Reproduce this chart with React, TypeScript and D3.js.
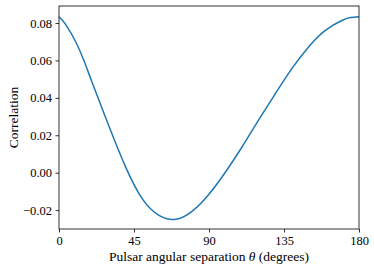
import { useEffect, useRef } from 'react';
import * as d3 from 'd3';

// angular separation (degrees) and correlation
const theta = [0, 2.5, 5, 10, 15, 20, 30, 40, 50, 60, 70, 80, 90, 100, 110, 120, 130, 140, 150, 160, 170, 175, 180];
const correlation = [
  0.0833, 0.0809, 0.0778, 0.07, 0.0598, 0.048, 0.0248, 0.003, -0.014, -0.0228, -0.0249, -0.0205, -0.0115,
  0.0005, 0.014, 0.0285, 0.0425, 0.056, 0.0675, 0.0762, 0.0815, 0.0829, 0.0833,
];
const xTicks = [0, 45, 90, 135, 180];
const yTicks = [-0.02, 0, 0.02, 0.04, 0.06, 0.08];

const width = 374;
const height = 269;
const margin = { top: 6, right: 15, bottom: 40, left: 59 };

export default function App() {
  const svgRef = useRef<SVGSVGElement>(null);

  useEffect(() => {
    if (!svgRef.current) return;
    const svg = d3.select(svgRef.current);
    svg.selectAll('*').remove();

    const innerWidth = width - margin.left - margin.right;
    const innerHeight = height - margin.top - margin.bottom;
    const font = '"Liberation Serif", "DejaVu Serif", serif';

    const x = d3.scaleLinear().domain([0, 180]).range([0, innerWidth]);
    const y = d3.scaleLinear().domain([-0.0301, 0.0891]).range([innerHeight, 0]);

    const g = svg.append('g').attr('transform', `translate(${margin.left},${margin.top})`);

    const pts = theta.map((t, i) => [t, correlation[i]] as [number, number]);
    const line = d3.line<[number, number]>()
      .x(d => x(d[0]))
      .y(d => y(d[1]))
      .curve(d3.curveNatural);

    g.append('path')
      .datum(pts)
      .attr('d', line)
      .attr('fill', 'none')
      .attr('stroke', '#1f77b4')
      .attr('stroke-width', 1.5);

    // axes
    const xAxis = g.append('g')
      .attr('transform', `translate(0,${innerHeight})`)
      .call(d3.axisBottom(x).tickValues(xTicks).tickSize(3.5).tickPadding(3.5).tickFormat(d3.format('d')));
    const yAxis = g.append('g')
      .call(d3.axisLeft(y).tickValues(yTicks).tickSize(3.5).tickPadding(3.5).tickFormat(d3.format('.2f')));

    [xAxis, yAxis].forEach(a => {
      a.select('.domain').remove();
      a.selectAll('line').attr('stroke', '#000').attr('stroke-width', 0.8);
      a.selectAll('text')
        .attr('fill', '#000')
        .style('font-family', font)
        .style('font-size', '12.5px');
    });

    // spines
    g.append('rect')
      .attr('x', 0)
      .attr('y', 0)
      .attr('width', innerWidth)
      .attr('height', innerHeight)
      .attr('fill', 'none')
      .attr('stroke', '#000')
      .attr('stroke-width', 0.8);

    // axis labels
    const xl = svg.append('text')
      .attr('x', margin.left + innerWidth / 2)
      .attr('y', 261)
      .attr('text-anchor', 'middle')
      .style('font-family', font)
      .style('font-size', '13.5px')
      .attr('fill', '#000');
    xl.append('tspan').text('Pulsar angular separation ');
    xl.append('tspan').attr('font-style', 'italic').text('θ');
    xl.append('tspan').text(' (degrees)');

    svg.append('text')
      .attr('transform', `translate(18,${margin.top + innerHeight / 2}) rotate(-90)`)
      .attr('text-anchor', 'middle')
      .style('font-family', font)
      .style('font-size', '13.5px')
      .attr('fill', '#000')
      .text('Correlation');
  }, []);

  return (
    <svg
      ref={svgRef}
      width={width}
      height={height}
      style={{ position: 'absolute', left: 0, top: 0, background: '#fff' }}
    />
  );
}
